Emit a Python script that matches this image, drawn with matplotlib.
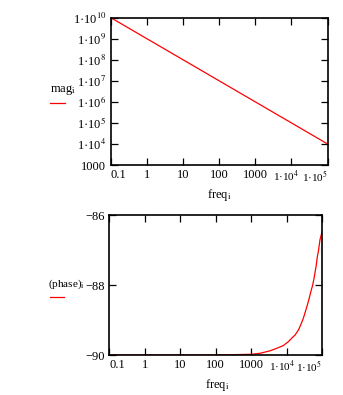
import matplotlib
matplotlib.use("Agg")
import matplotlib.pyplot as plt
from matplotlib.lines import Line2D
from matplotlib.transforms import ScaledTranslation

# values
freq_mag = [0.1, 1, 10, 100, 1000, 1e4, 1e5]
mag = [1e10, 1e9, 1e8, 1e7, 1e6, 1e5, 1e4]

freq_phase = [0.1, 1, 10, 100, 1000, 1800, 3400, 5200, 8000, 1.11e4, 1.38e4,
              1.71e4, 2.12e4, 2.47e4, 2.93e4, 3.34e4, 3.8e4, 4.15e4, 4.91e4,
              5.37e4, 5.85e4, 6.66e4, 7.25e4, 7.73e4, 8.6e4, 1e5]
phase = [-90, -90, -90, -90, -89.98, -89.95, -89.88, -89.81, -89.73, -89.62,
         -89.52, -89.43, -89.29, -89.14, -88.95, -88.76, -88.57, -88.43,
         -88.14, -88.0, -87.81, -87.48, -87.19, -87.05, -86.71, -86.45]

x_ticks = [0.1, 1, 10, 100, 1000, 1e4, 1e5]
x_labels = ["0.1", "1", "10", "100", "1000", "1\u00b710$^{4}$", "1\u00b710$^{5}$"]
mag_ticks = [1e3, 1e4, 1e5, 1e6, 1e7, 1e8, 1e9, 1e10]
mag_labels = ["1000"] + ["1\u00b710$^{%d}$" % p for p in range(4, 11)]
phase_ticks = [-90, -88, -86]

plt.rcParams['font.family'] = ['Liberation Serif', 'DejaVu Serif']
plt.rcParams['mathtext.fontset'] = 'stix'

W, H = 343, 395
FS = 9
fig = plt.figure(figsize=(W / 100, H / 100), dpi=100)


def px(left, top, right, bottom):
    return [left / W, 1 - bottom / H, (right - left) / W, (bottom - top) / H]


def style(ax):
    for s in ax.spines.values():
        s.set_linewidth(1.2)
        s.set_zorder(3)
    ax.tick_params(which='major', direction='in', length=5, width=0.9,
                   top=True, right=True, labelsize=FS, pad=3)
    ax.tick_params(which='minor', length=0)
    ax.set_xscale('log')
    ax.set_xlim(0.1, 1e5)
    ax.set_xticks(x_ticks)
    ax.set_xticklabels(x_labels)
    lbls = ax.get_xticklabels()
    lbls[0].set_ha('left')
    lbls[-2].set_fontsize(FS - 1)
    lbls[-1].set_fontsize(FS - 1)
    lbls[-1].set_ha('right')
    # the 1e4 label sits a little left of its tick, as in the reference
    t4 = ax.xaxis.get_major_ticks()[-2].label1
    t4.set_transform(t4.get_transform() +
                     ScaledTranslation(-5 / 100, 0, fig.dpi_scale_trans))


# magnitude
ax1 = fig.add_axes(px(110.5, 17.5, 327.5, 165))
ax1.plot(freq_mag, mag, color='red', lw=0.9, zorder=2)
style(ax1)
ax1.set_yscale('log')
ax1.set_ylim(1e3, 1e10)
ax1.set_yticks(mag_ticks)
ax1.set_yticklabels(mag_labels)

# phase
ax2 = fig.add_axes(px(109, 215, 322.3, 355))
ax2.plot(freq_phase, phase, color='red', lw=0.9, zorder=2)
style(ax2)
ax2.set_ylim(-90, -86)
ax2.set_yticks(phase_ticks)

# axis titles and legend strokes, placed as in the reference
fig.text(219 / W, 1 - 195 / H, "freq$_{\\rm i}$", fontsize=FS, ha='center', va='center')
fig.text(217 / W, 1 - 385 / H, "freq$_{\\rm i}$", fontsize=FS, ha='center', va='center')
fig.text(50 / W, 1 - 90 / H, "mag$_{\\rm i}$", fontsize=FS, va='center')
fig.add_artist(Line2D([50 / W, 65 / W], [1 - 103 / H] * 2, color='red', lw=0.9))
fig.text(48 / W, 1 - 284 / H, "(phase)$_{\\rm i}$", fontsize=FS - 1, va='center')
fig.add_artist(Line2D([50 / W, 64 / W], [1 - 297 / H] * 2, color='red', lw=0.9))

fig.savefig("out.png", dpi=100)
